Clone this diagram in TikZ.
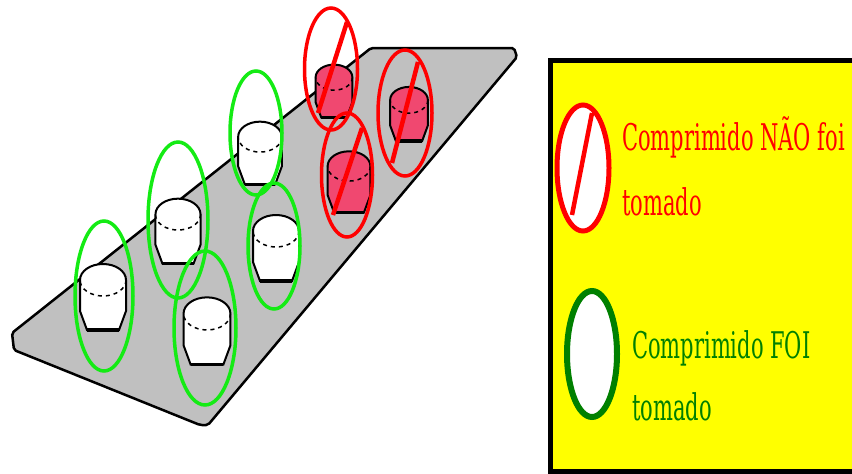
\documentclass[tikz,border=0pt]{standalone}
\usepackage{fontspec}
\usepackage{tikz}
\usetikzlibrary{calc}
\newfontfamily\legendfont{DejaVu Serif}

\definecolor{traygray}{RGB}{192,192,192}
\definecolor{pillred}{RGB}{240,72,112}
\definecolor{ringgreen}{RGB}{20,235,20}
\definecolor{darkgreen}{RGB}{0,128,0}
\definecolor{boxyellow}{RGB}{255,255,0}

\tikzstyle{tray} = [fill=traygray, draw=black, line width=2.5pt, rounded corners=2pt]
\tikzstyle{ringok} = [draw=ringgreen, line width=3.5pt]
\tikzstyle{ringno} = [draw=red, line width=3.5pt]
\tikzstyle{slash} = [red, line width=4.5pt]
\tikzstyle{legendedge} = [draw=black, line width=5pt]
\tikzstyle{notetext} = [font=\fontsize{21}{25}\legendfont, inner sep=0pt, anchor=base west, yscale=1.75]

% one tablet: x, y (centre), size, colour
\newcommand{\pill}[4]{%
  \begin{scope}[shift={(#1,#2)}, scale=#3]
    \filldraw[fill=#4, draw=black, line width=2pt] (-23,17) arc (180:0:23 and 16)
      -- (23,-14) -- (16,-33) -- (-16,-33) -- (-23,-14) -- cycle;
    \draw[black, line width=1.5pt, dash pattern=on 4pt off 4pt] (23,17) arc (0:-180:23 and 16);
    \draw[black, line width=3.5pt] (-16,-33) -- (16,-33);
  \end{scope}}

\begin{document}
\begin{tikzpicture}[x=1pt,y=1pt]
  \useasboundingbox (0,0) rectangle (852,-474);

  % blister
  \draw[tray] (371,-48) -- (514,-48) -- (517,-57) -- (208,-425) -- (200,-425)
    -- (14,-350) -- (12,-333) -- cycle;

  % tablets taken
  \pill{103}{-297}{1.0}{white}
  \pill{178}{-231}{0.98}{white}
  \pill{207}{-331}{1.02}{white}
  \pill{260}{-153}{0.95}{white}
  \pill{276}{-248}{1.0}{white}
  % tablets left
  \pill{334}{-91}{0.8}{pillred}
  \pill{349}{-182}{0.93}{pillred}
  \pill{409}{-114}{0.82}{pillred}

  \draw[ringok] (104,-296) ellipse (29 and 75);
  \draw[ringok] (178,-220) ellipse (30 and 78);
  \draw[ringok] (205,-328) ellipse (31 and 77);
  \draw[ringok] (256,-133) ellipse (26 and 62);
  \draw[ringok] (274,-246) ellipse (26 and 63);

  \draw[ringno] (331,-69) ellipse (26.5 and 61);
  \draw[slash] (318,-113) -- (347,-22);
  \draw[ringno] (347,-175) ellipse (25.5 and 62);
  \draw[slash] (333,-215) -- (362,-128);
  \draw[ringno] (405,-113) ellipse (27 and 63);
  \draw[slash] (392,-163) -- (418,-62);

  % legend, open on the right
  \fill[boxyellow] (550,-60) rectangle (852,-471);
  \draw[legendedge] (852,-60) -- (550,-60) -- (550,-471) -- (852,-471);
  \filldraw[fill=white, draw=red, line width=5pt] (583,-168) ellipse (26 and 63);
  \draw[slash] (572,-215) -- (592,-113);
  \filldraw[fill=white, draw=darkgreen, line width=6pt] (592,-354) ellipse (25 and 63);

  \node[notetext, red] (notone) at (622,-150) {Comprimido NÃO foi};
  \node[notetext, red] (nottwo) at (622,-215) {tomado};
  \node[notetext, darkgreen] (okone) at (632,-358) {Comprimido FOI};
  \node[notetext, darkgreen] (oktwo) at (632,-420) {tomado};
\end{tikzpicture}
\end{document}
